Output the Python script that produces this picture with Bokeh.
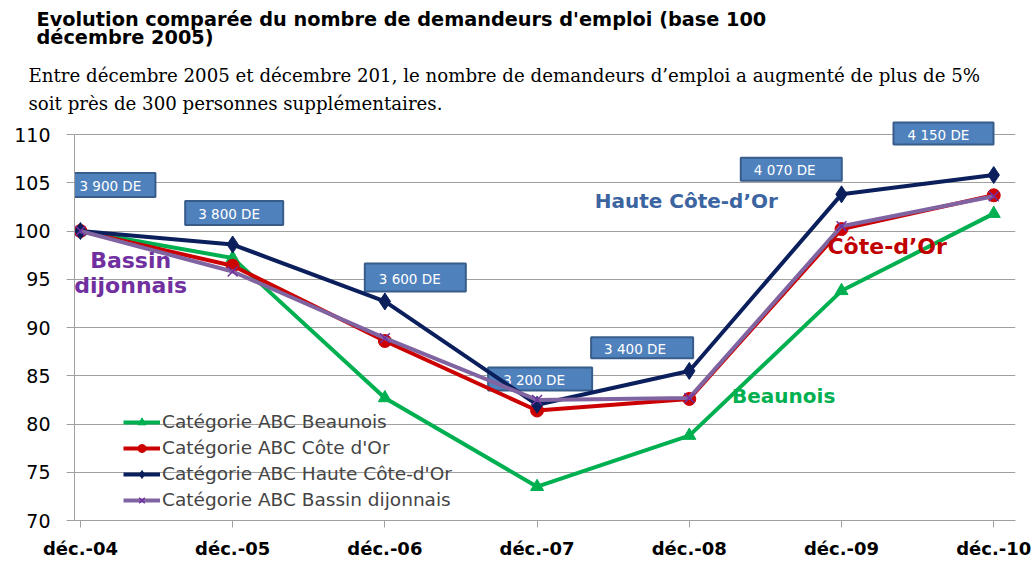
from bokeh.plotting import figure
from bokeh.layouts import column
from bokeh.models import ColumnDataSource, FixedTicker, Label, Legend, LegendItem, Range1d
from bokeh.embed import file_html
from bokeh.resources import INLINE
from bokeh.core.properties import value

# ---- data ----
months = ["déc.-04", "déc.-05", "déc.-06", "déc.-07", "déc.-08", "déc.-09", "déc.-10"]
beaunois = [100, 97.2, 82.7, 73.5, 78.8, 93.8, 101.8]
cote_dor = [100, 96.4, 88.6, 81.4, 82.6, 100.2, 103.7]
haute_cote_dor = [100, 98.6, 92.7, 82.0, 85.5, 103.8, 105.8]
bassin_dijonnais = [100, 95.8, 88.9, 82.5, 82.7, 100.5, 103.6]
de_labels = ["3 900 DE", "3 800 DE", "3 600 DE", "3 200 DE", "3 400 DE", "4 070 DE", "4 150 DE"]
y_ticks = [70, 75, 80, 85, 90, 95, 100, 105, 110]

series_names = ["Catégorie ABC Beaunois", "Catégorie ABC Côte d'Or",
                "Catégorie ABC Haute Côte-d'Or", "Catégorie ABC Bassin dijonnais"]

title_lines = ["Evolution comparée du nombre de demandeurs d'emploi (base 100", "décembre 2005)"]
subtitle_lines = ["Entre décembre 2005 et décembre 201, le nombre de demandeurs d’emploi a augmenté de plus de 5%",
                  "soit près de 300 personnes supplémentaires."]

# ---- annotation layout (callout boxes) ----
box_x = [0.22, 1.01, 2.20, 3.02, 3.69, 4.67, 5.67]
box_y = [104.77, 101.87, 95.18, 84.66, 87.9, 106.4, 110.1]
box_w = [83, 98, 101, 104, 102, 101, 100]
box_h = [24, 24, 28, 23, 21, 23, 22]
box_pad = [7, 13, 14, 15, 13, 13, 14]

xs = list(range(len(months)))

W = 1033
HEAD_H = 118
CH_H = 564 - HEAD_H

# ---- header (title + subtitle), coordinates in pixels ----
head = figure(width=W, height=HEAD_H, output_backend="svg", toolbar_location=None,
              x_range=Range1d(0, W), y_range=Range1d(HEAD_H, 0),
              x_axis_type=None, y_axis_type=None, min_border=0)
if "frame_align" in head.properties():
    head.frame_align = False
head.grid.grid_line_color = None
head.outline_line_color = None
head.text(x=[36, 36], y=[19, 37], text=title_lines, text_font=value("DejaVu Sans"),
          text_font_style="bold", text_font_size="19.3px", text_color="black",
          text_align="left", text_baseline="middle")
head.text(x=[28, 28], y=[75, 103], text=subtitle_lines, text_font=value("DejaVu Serif"),
          text_font_size="18.2px", text_color="black",
          text_align="left", text_baseline="middle")

# ---- chart ----
p = figure(width=W, height=CH_H, output_backend="svg", toolbar_location=None,
           x_range=Range1d(-0.039, 6.143), y_range=Range1d(70, 111.66),
           min_border_left=74, min_border_right=18, min_border_top=0, min_border_bottom=44)
if "frame_align" in p.properties():
    p.frame_align = False
p.outline_line_color = None
p.background_fill_color = "white"

p.xaxis.ticker = FixedTicker(ticks=xs)
p.xaxis.major_label_overrides = {i: m for i, m in enumerate(months)}
p.xaxis.major_label_text_font = "DejaVu Sans"
p.xaxis.major_label_text_font_style = "bold"
p.xaxis.major_label_text_font_size = "18px"
p.xaxis.major_label_text_color = "black"
p.xaxis.major_tick_in = 0
p.xaxis.major_tick_out = 7
p.xaxis.minor_tick_line_color = None
p.xaxis.axis_line_color = "#A0A0A0"
p.xaxis.major_tick_line_color = "#A0A0A0"
p.xaxis.major_label_standoff = 10

p.yaxis.ticker = FixedTicker(ticks=y_ticks)
p.yaxis.bounds = (70, 110)
p.yaxis.major_label_text_font = "DejaVu Sans"
p.yaxis.major_label_text_font_size = "19px"
p.yaxis.major_label_text_color = "black"
p.yaxis.major_tick_in = 0
p.yaxis.major_tick_out = 8
p.yaxis.minor_tick_line_color = None
p.yaxis.axis_line_color = "#A0A0A0"
p.yaxis.major_tick_line_color = "#A0A0A0"
p.yaxis.major_label_standoff = 16

p.xgrid.grid_line_color = None
p.ygrid.ticker = FixedTicker(ticks=y_ticks)
p.ygrid.grid_line_color = "#A0A0A0"

# callout boxes
bsrc = ColumnDataSource(dict(x=box_x, y=box_y, w=box_w, h=box_h, label=de_labels,
                             xo=[-w / 2 + pd for w, pd in zip(box_w, box_pad)]))
p.rect(x="x", y="y", width="w", height="h", width_units="screen", height_units="screen",
       source=bsrc, fill_color="#4F81BD", line_color="#385D8A", line_width=2)
p.text(x="x", y="y", text="label", x_offset="xo", y_offset=1, source=bsrc,
       text_font=value("DejaVu Sans"), text_font_size="13.5px", text_color="white",
       text_align="left", text_baseline="middle")

# series
specs = [
    (beaunois, "#00B050", "triangle", 13, "#00B050"),
    (cote_dor, "#CC0000", "circle", 13, "#CC0000"),
    (haute_cote_dor, "#0A1F5C", "diamond", 17, "#0A1F5C"),
    (bassin_dijonnais, "#8064A2", "x", 14, "#7030A0"),
]
items = []
for name, (vals, col, mk, sz, mcol) in zip(series_names, specs):
    src = ColumnDataSource(dict(x=xs, y=vals))
    r1 = p.line("x", "y", source=src, line_color=col, line_width=4)
    if mk == "x":
        r2 = p.scatter("x", "y", source=src, marker=mk, size=sz, line_color=mcol, line_width=1.5)
    else:
        r2 = p.scatter("x", "y", source=src, marker=mk, size=sz, fill_color=mcol, line_color=mcol)
    items.append(LegendItem(label=name, renderers=[r1, r2]))

legend = Legend(items=items, location=(49, 10), padding=0, margin=0, spacing=5,
                glyph_width=37, glyph_height=20, label_height=20, label_standoff=2,
                label_text_font="DejaVu Sans", label_text_font_size="18.5px",
                background_fill_alpha=0, border_line_color=None)
p.add_layout(legend, "center")

def add_label(x, y, txt, col, size):
    p.add_layout(Label(x=x, y=y, text=txt, text_color=col, text_font="DejaVu Sans",
                       text_font_style="bold", text_font_size=size,
                       text_align="center", text_baseline="middle"))

add_label(0.33, 96.94, "Bassin", "#7030A0", "22px")
add_label(0.33, 94.35, "dijonnais", "#7030A0", "22px")
add_label(3.98, 103.16, "Haute Côte-d’Or", "#3B64A0", "20px")
add_label(5.30, 98.4, "Côte-d’Or", "#C00000", "22px")
add_label(4.62, 82.95, "Beaunois", "#00B050", "20px")

layout = column(head, p, spacing=0)
open("out.html", "w").write(file_html(layout, INLINE))
